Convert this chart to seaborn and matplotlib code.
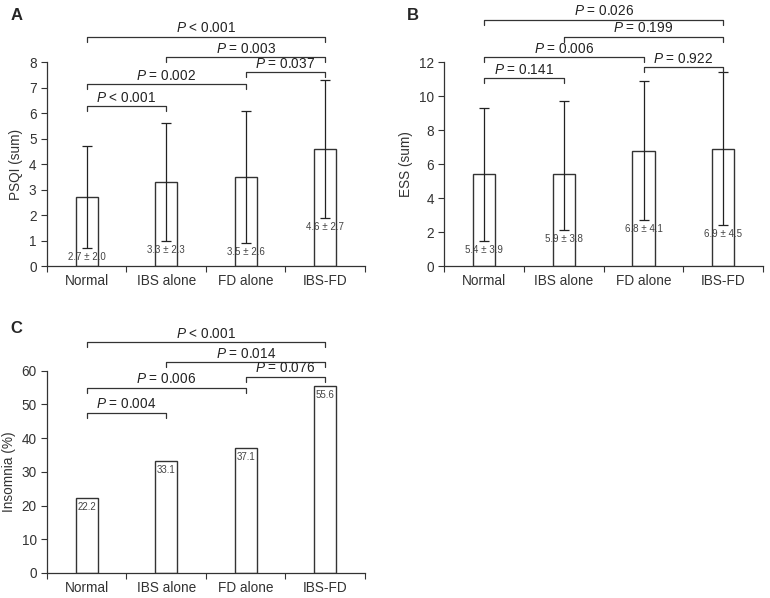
import numpy as np
import pandas as pd
import matplotlib
matplotlib.use("Agg")
import matplotlib.pyplot as plt
import seaborn as sns

groups = ["Normal", "IBS alone", "FD alone", "IBS-FD"]

# panel A: PSQI
psqi_mean = [2.7, 3.3, 3.5, 4.6]
psqi_sd = [2.0, 2.3, 2.6, 2.7]
psqi_pairs = [(0, 1), (0, 2), (2, 3), (1, 3), (0, 3)]
psqi_p = ["< 0.001", "= 0.002", "= 0.037", "= 0.003", "< 0.001"]
psqi_levels = [6.27, 7.14, 7.6, 8.2, 9.0]

# panel B: ESS (bar heights as drawn, error bars around reported means)
ess_bar = [5.4, 5.4, 6.8, 6.9]
ess_mean = [5.4, 5.9, 6.8, 6.9]
ess_sd = [3.9, 3.8, 4.1, 4.5]
ess_pairs = [(0, 1), (0, 2), (2, 3), (1, 3), (0, 3)]
ess_p = ["= 0.141", "= 0.006", "= 0.922", "= 0.199", "= 0.026"]
ess_levels = [11.05, 12.3, 11.7, 13.5, 14.5]

# panel C: insomnia (%)
ins_pct = [22.2, 33.1, 37.1, 55.6]
ins_pairs = [(0, 1), (0, 2), (2, 3), (1, 3), (0, 3)]
ins_p = ["= 0.004", "= 0.006", "= 0.076", "= 0.014", "< 0.001"]
ins_levels = [47.5, 54.9, 58.2, 62.6, 68.5]

sns.set_style("ticks")
plt.rcParams["font.family"] = ["Liberation Sans", "DejaVu Sans"]
plt.rcParams["mathtext.fontset"] = "custom"
plt.rcParams["mathtext.it"] = "Liberation Sans:italic"
plt.rcParams["mathtext.rm"] = "Liberation Sans"

LC = "#333333"
fig = plt.figure(figsize=(7.7, 5.98), dpi=100)
axA = fig.add_axes([0.061, 0.555, 0.413, 0.341])
axB = fig.add_axes([0.577, 0.555, 0.414, 0.341])
axC = fig.add_axes([0.061, 0.042, 0.413, 0.338])


def base(ax, heights, ymax, ystep, ylabel):
    df = pd.DataFrame({"group": groups, "value": heights})
    sns.barplot(data=df, x="group", y="value", ax=ax, color="white",
                edgecolor=LC, linewidth=1.0, width=0.28, errorbar=None)
    ax.set_xlim(-0.5, 3.5)
    ax.set_ylim(0, ymax)
    ax.set_yticks(np.arange(0, ymax + ystep / 2, ystep))
    ax.set_xlabel("")
    ax.set_ylabel(ylabel, fontsize=9.8, color=LC, labelpad=4)
    ax.set_xticks(range(4))
    ax.set_xticklabels(groups)
    ax.set_xticks([-0.5, 0.5, 1.5, 2.5, 3.5], minor=True)
    ax.tick_params(axis="x", which="major", length=0, labelsize=9.8,
                   colors=LC, pad=6)
    ax.tick_params(axis="x", which="minor", length=4, width=0.8, color=LC)
    ax.tick_params(axis="y", length=4, width=0.8, labelsize=9.8, colors=LC)
    for s in ["top", "right"]:
        ax.spines[s].set_visible(False)
    for s in ["left", "bottom"]:
        ax.spines[s].set_color(LC)
        ax.spines[s].set_linewidth(0.9)


def brackets(ax, pairs, ptexts, levels, ymax):
    leg = 0.025 * ymax
    for (a, b), pt, y in zip(pairs, ptexts, levels):
        ax.plot([a, a, b, b], [y - leg, y, y, y - leg], color=LC, lw=0.9,
                clip_on=False)
        ax.annotate("$P$ " + pt, xy=((a + b) / 2, y), xytext=(0, 1.5),
                    textcoords="offset pixels", ha="center", va="bottom",
                    fontsize=9.8, color="#222222", annotation_clip=False)


def sd_bars(ax, means, sds):
    x = np.arange(4)
    ax.errorbar(x, means, yerr=sds, fmt="none", ecolor="#222222",
                elinewidth=0.9, capsize=3.5, capthick=0.9)
    for i, (m, s) in enumerate(zip(means, sds)):
        ax.annotate(f"{m} \u00b1 {s}", xy=(i, m - s), xytext=(0, -9),
                    textcoords="offset pixels", ha="center", va="center",
                    fontsize=7, color="#444444")


base(axA, psqi_mean, 8, 1, "PSQI (sum)")
sd_bars(axA, psqi_mean, psqi_sd)
brackets(axA, psqi_pairs, psqi_p, psqi_levels, 8)

base(axB, ess_bar, 12, 2, "ESS (sum)")
sd_bars(axB, ess_mean, ess_sd)
brackets(axB, ess_pairs, ess_p, ess_levels, 12)

base(axC, ins_pct, 60, 10, "Insomnia (%)")
for i, v in enumerate(ins_pct):
    axC.annotate(f"{v}", xy=(i, v), xytext=(0, -9), textcoords="offset pixels",
                 ha="center", va="center", fontsize=7, color="#444444")
brackets(axC, ins_pairs, ins_p, ins_levels, 60)

fig.text(0.014, 0.974, "A", fontsize=12, fontweight="bold", va="center")
fig.text(0.528, 0.974, "B", fontsize=12, fontweight="bold", va="center")
fig.text(0.014, 0.45, "C", fontsize=12, fontweight="bold", va="center")

fig.savefig("out.png", dpi=100)
